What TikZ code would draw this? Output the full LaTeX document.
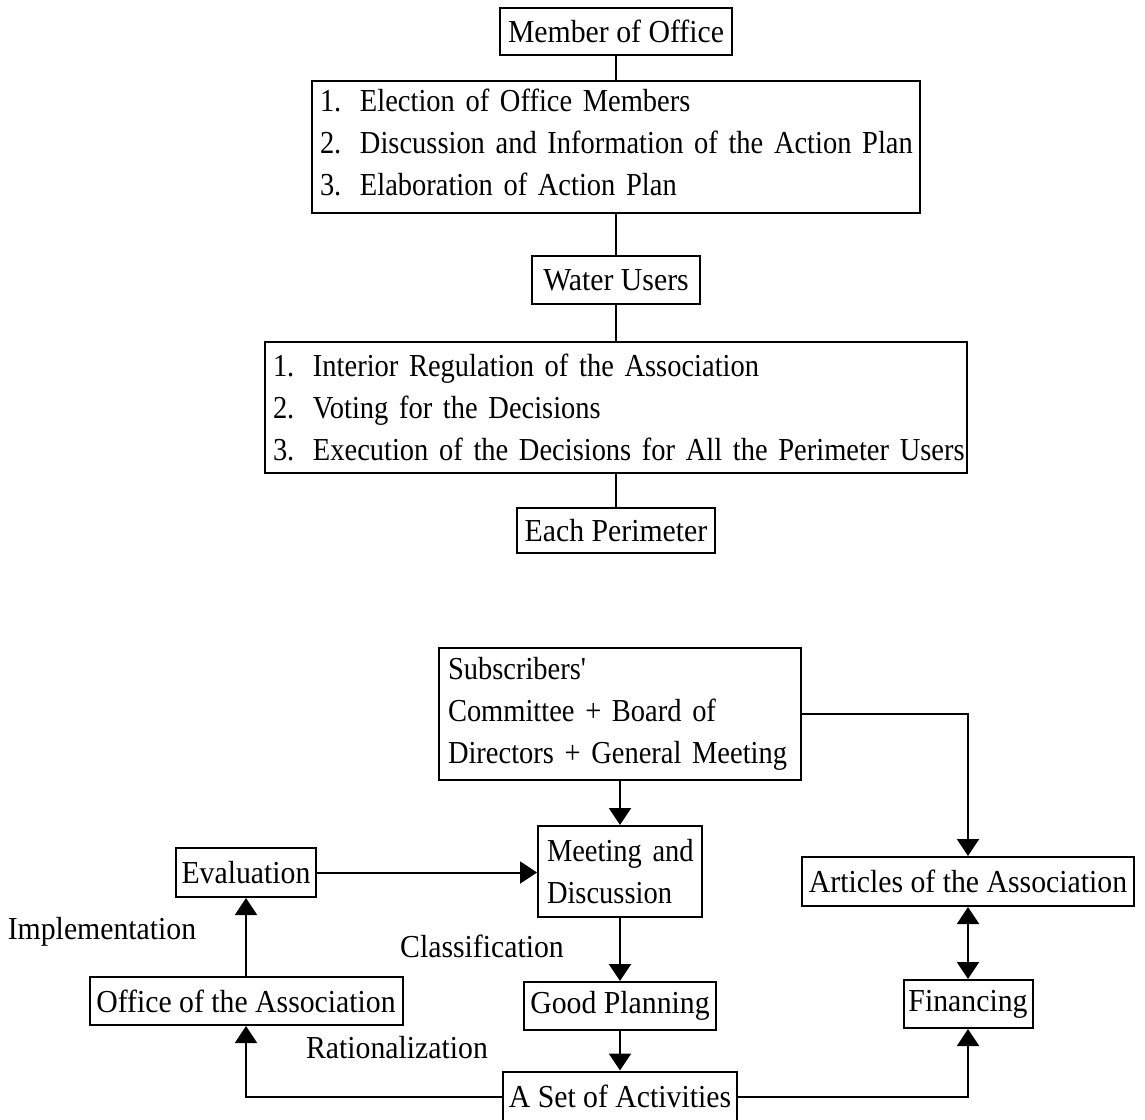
\documentclass[tikz,border=0pt]{standalone}
\usepackage{fontspec}
\setmainfont{Liberation Serif}[FakeStretch=0.93]
\newfontfamily\narrowfont{Liberation Serif}[FakeStretch=0.89]
\usepackage{tikz}
\usetikzlibrary{positioning,arrows.meta}

\tikzset{
  box/.style={draw, line width=1pt, inner sep=0pt, font=\fontsize{16}{21}\selectfont},
  listbox/.style={box, align=left, inner xsep=4pt, font=\narrowfont\fontsize{16}{21}\selectfont},
  lbl/.style={inner sep=0pt, font=\fontsize{16}{21}\selectfont},
  arr/.style={line width=1pt, -{Triangle[length=8.5pt,width=11pt]}},
  darr/.style={line width=1pt, {Triangle[length=8.5pt,width=11pt]}-{Triangle[length=8.5pt,width=11pt]}},
}
\newcommand{\itm}[2]{\makebox[20pt][l]{#1}\mbox{#2}}

\begin{document}
\begin{tikzpicture}[x=0.5pt, y=-0.5pt]
  \useasboundingbox (0,0) rectangle (1145,1119);
  % Upper chart
  \node[box, minimum width=116pt, minimum height=23.5pt] (member) at (616,31.5) {Member of Office};
  \node[listbox, text width=296pt, minimum height=66pt] (tasks) at (616,147)
    {\itm{1.}{Election of Office Members}\\
     \itm{2.}{Discussion and Information of the Action Plan}\\
     \itm{3.}{Elaboration of Action Plan}\\[-16pt]\mbox{}};
  \node[box, minimum width=84pt, minimum height=24pt] (water) at (616,280) {Water Users};
  \node[listbox, text width=343pt, minimum height=65.5pt] (rules) at (616,407.5)
    {\itm{1.}{Interior Regulation of the Association}\\
     \itm{2.}{Voting for the Decisions}\\
     \itm{3.}{Execution of the Decisions for All the Perimeter Users}};
  \node[box, minimum width=99pt, minimum height=22.5pt] (perim) at (616,530.5) {Each Perimeter};
  \foreach \a/\b in {member/tasks, tasks/water, water/rules, rules/perim}
    \draw[line width=1pt] (\a.south) -- (\b.north);

  % Lower chart
  \node[listbox, inner xsep=4.5pt, text width=172pt, minimum height=66pt] (subs) at (620,714)
    {\mbox{Subscribers\textquotesingle}\\ \mbox{Committee + Board of}\\ \mbox{Directors + General Meeting}};
  \node[listbox, inner xsep=4.5pt, text width=73pt, minimum height=45.5pt] (meet) at (620,871.5)
    {\mbox{Meeting and}\\ \mbox{Discussion}};
  \node[box, minimum width=70pt, minimum height=24.5pt] (eval) at (246,872.5) {Evaluation};
  \node[box, minimum width=166pt, minimum height=24.5pt] (artic) at (968,881.5) {Articles of the Association};
  \node[box, minimum width=96pt, minimum height=24pt] (plan) at (620,1006) {Good Planning};
  \node[box, minimum width=64.5pt, minimum height=24pt] (fin) at (968,1004) {Financing};
  \node[box, minimum width=156.5pt, minimum height=24pt] (assoc) at (246,1001) {Office of the Association};
  \node[box, minimum width=117pt, minimum height=25pt] (acts) at (620,1096.5) {A Set of Activities};

  % Labels
  \node[lbl] (impl) at (102,932) {Implementation};
  \node[lbl] (clas) at (482,946) {Classification};
  \node[lbl] (rati) at (397,1048) {Rationalization};

  % Arrows
  \draw[arr] (subs) -- (meet);
  \draw[arr] (meet) -- (plan);
  \draw[arr] (plan) -- (acts);
  \draw[arr] (subs.east) -| (artic.north);
  \draw[arr] (eval.east) -- (eval.east -| meet.west);
  \draw[arr] (assoc) -- (eval);
  \draw[arr] (acts.west) -| (assoc.south);
  \draw[arr] (acts.east) -| (fin.south);
  \draw[darr] (artic) -- (fin);
\end{tikzpicture}
\end{document}
